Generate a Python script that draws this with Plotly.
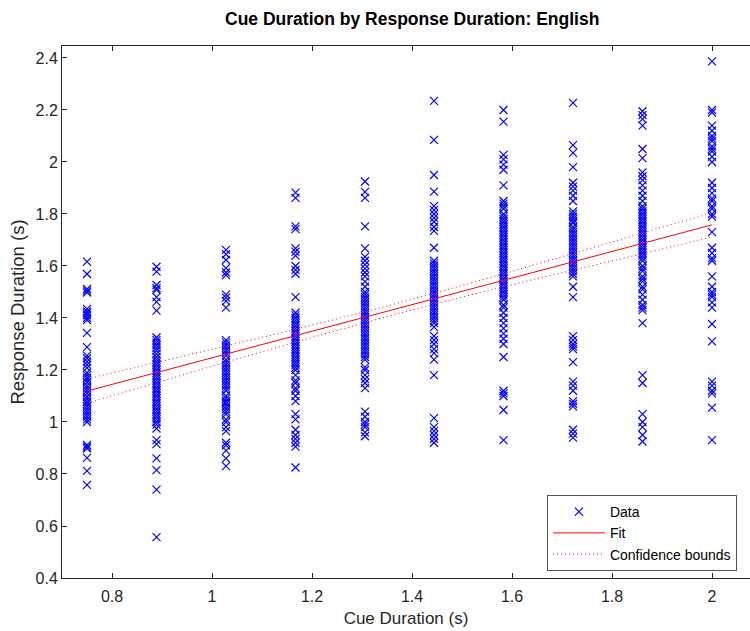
import plotly.graph_objects as go

# Cue duration levels (s)
cue_levels = [0.75, 0.889, 1.028, 1.167, 1.306, 1.444, 1.583, 1.722, 1.861, 2.0]

# Response durations (s) observed at each cue level
resp_075 = [1.617, 1.569, 1.512, 1.505, 1.498, 1.435, 1.425, 1.418, 1.41, 1.40, 1.392, 1.343,
            1.288, 1.255, 1.245, 1.232, 1.22, 1.208, 1.19, 1.18, 1.17, 1.162, 1.152, 1.14,
            1.13, 1.12, 1.11, 1.098, 1.088, 1.078, 1.07, 1.06, 1.05, 1.04, 1.03, 1.02, 1.01,
            1.0, 0.912, 0.905, 0.898, 0.862, 0.812, 0.758]
resp_089 = [1.597, 1.578, 1.527, 1.515, 1.508, 1.48, 1.462, 1.428, 1.325, 1.315, 1.305, 1.295,
            1.285, 1.275, 1.262, 1.25, 1.24, 1.23, 1.22, 1.21, 1.2, 1.19, 1.18, 1.17, 1.16,
            1.15, 1.14, 1.13, 1.12, 1.11, 1.1, 1.09, 1.08, 1.07, 1.06, 1.05, 1.04, 1.03, 1.02,
            1.01, 1.0, 0.99, 0.975, 0.93, 0.915, 0.86, 0.815, 0.74, 0.557]
resp_103 = [1.662, 1.645, 1.623, 1.592, 1.575, 1.565, 1.49, 1.478, 1.465, 1.44, 1.315, 1.305,
            1.295, 1.285, 1.275, 1.265, 1.255, 1.24, 1.23, 1.22, 1.21, 1.2, 1.19, 1.18, 1.17,
            1.16, 1.15, 1.14, 1.13, 1.12, 1.1, 1.09, 1.08, 1.075, 1.07, 1.06, 1.05, 1.04, 1.03,
            1.01, 1.0, 0.98, 0.965, 0.92, 0.91, 0.89, 0.86, 0.83]
resp_117 = [1.882, 1.862, 1.752, 1.742, 1.668, 1.655, 1.64, 1.6, 1.585, 1.57, 1.48, 1.42, 1.41,
            1.4, 1.39, 1.38, 1.37, 1.36, 1.35, 1.34, 1.33, 1.32, 1.31, 1.3, 1.29, 1.28, 1.27,
            1.26, 1.25, 1.24, 1.23, 1.22, 1.21, 1.2, 1.18, 1.16, 1.15, 1.13, 1.12, 1.1, 1.08,
            1.03, 1.01, 0.97, 0.95, 0.935, 0.92, 0.905, 0.825]
resp_131 = [1.925, 1.885, 1.862, 1.752, 1.668, 1.635, 1.62, 1.605, 1.59, 1.575, 1.56, 1.54,
            1.52, 1.5, 1.49, 1.48, 1.47, 1.46, 1.45, 1.44, 1.43, 1.42, 1.41, 1.4, 1.39, 1.38,
            1.37, 1.36, 1.35, 1.34, 1.33, 1.32, 1.31, 1.3, 1.29, 1.28, 1.27, 1.26, 1.25, 1.24,
            1.21, 1.2, 1.18, 1.165, 1.15, 1.13, 1.04, 1.02, 1.0, 0.99, 0.98, 0.96, 0.945]
resp_144 = [2.235, 2.085, 1.95, 1.886, 1.83, 1.815, 1.8, 1.785, 1.77, 1.75, 1.735, 1.67, 1.62,
            1.61, 1.6, 1.59, 1.58, 1.57, 1.56, 1.55, 1.54, 1.53, 1.52, 1.51, 1.5, 1.49, 1.48,
            1.47, 1.46, 1.45, 1.44, 1.43, 1.42, 1.41, 1.4, 1.39, 1.38, 1.365, 1.33, 1.315, 1.3,
            1.28, 1.265, 1.24, 1.18, 1.015, 0.98, 0.965, 0.95, 0.935, 0.92]
resp_158 = [2.2, 2.155, 2.027, 2.01, 1.99, 1.97, 1.91, 1.85, 1.84, 1.83, 1.82, 1.8, 1.79, 1.78,
            1.77, 1.76, 1.75, 1.74, 1.73, 1.72, 1.71, 1.7, 1.69, 1.68, 1.67, 1.66, 1.65, 1.64,
            1.63, 1.62, 1.61, 1.6, 1.59, 1.58, 1.57, 1.56, 1.55, 1.54, 1.53, 1.52, 1.51, 1.5,
            1.49, 1.48, 1.47, 1.45, 1.44, 1.42, 1.4, 1.38, 1.36, 1.34, 1.32, 1.3, 1.25, 1.12,
            1.11, 1.1, 1.046, 0.93]
resp_172 = [2.227, 2.065, 2.035, 1.98, 1.92, 1.905, 1.89, 1.87, 1.85, 1.81, 1.8, 1.79, 1.78,
            1.77, 1.765, 1.75, 1.74, 1.73, 1.72, 1.71, 1.7, 1.69, 1.68, 1.67, 1.66, 1.65, 1.64,
            1.63, 1.62, 1.61, 1.6, 1.59, 1.58, 1.57, 1.56, 1.52, 1.48, 1.33, 1.315, 1.3, 1.29,
            1.28, 1.23, 1.155, 1.14, 1.12, 1.08, 1.07, 1.06, 0.97, 0.955, 0.94]
resp_186 = [2.195, 2.18, 2.165, 2.14, 2.05, 2.015, 1.96, 1.945, 1.93, 1.91, 1.89, 1.87, 1.85,
            1.83, 1.82, 1.81, 1.8, 1.79, 1.78, 1.77, 1.76, 1.75, 1.74, 1.73, 1.72, 1.71, 1.7,
            1.69, 1.68, 1.67, 1.66, 1.65, 1.64, 1.63, 1.62, 1.6, 1.59, 1.58, 1.56, 1.55, 1.54,
            1.52, 1.51, 1.49, 1.47, 1.45, 1.44, 1.43, 1.38, 1.18, 1.15, 1.03, 1.0, 0.98, 0.95,
            0.925]
resp_200 = [2.387, 2.2, 2.19, 2.14, 2.12, 2.1, 2.09, 2.08, 2.06, 2.05, 2.04, 2.02, 2.0, 1.92,
            1.9, 1.88, 1.86, 1.85, 1.83, 1.82, 1.8, 1.79, 1.73, 1.67, 1.65, 1.63, 1.62, 1.56,
            1.52, 1.5, 1.49, 1.48, 1.46, 1.44, 1.377, 1.31, 1.155, 1.14, 1.12, 1.11, 1.055, 0.93]

responses = [resp_075, resp_089, resp_103, resp_117, resp_131,
             resp_144, resp_158, resp_172, resp_186, resp_200]

# Linear fit (endpoints of the fitted line)
fit_x = [0.75, 2.0]
fit_y = [1.119, 1.758]

# 95% confidence bounds of the fit at each cue level
bound_upper = [1.166, 1.229, 1.292, 1.357, 1.424, 1.495, 1.570, 1.648, 1.727, 1.804]
bound_lower = [1.072, 1.151, 1.230, 1.307, 1.382, 1.453, 1.520, 1.584, 1.647, 1.712]

# Tick values
x_ticks = [0.8, 1.0, 1.2, 1.4, 1.6, 1.8, 2.0]
x_tick_text = ["0.8", "1", "1.2", "1.4", "1.6", "1.8", "2"]
y_ticks = [0.4, 0.6, 0.8, 1.0, 1.2, 1.4, 1.6, 1.8, 2.0, 2.2, 2.4]
y_tick_text = ["0.4", "0.6", "0.8", "1", "1.2", "1.4", "1.6", "1.8", "2", "2.2", "2.4"]

data_x, data_y = [], []
for level, vals in zip(cue_levels, responses):
    data_x.extend([level] * len(vals))
    data_y.extend(vals)

FONT = "Liberation Sans, Arial, Helvetica, sans-serif"
AXIS_COLOR = "#262626"
BOUND_DASH = "1px,3px"

fig = go.Figure()
fig.add_trace(go.Scatter(
    x=data_x, y=data_y, mode="markers", name="Data",
    marker=dict(symbol="x-thin", size=8, color="#0000ff",
                line=dict(color="#0000ff", width=1.2)),
))
fig.add_trace(go.Scatter(
    x=fit_x, y=fit_y, mode="lines", name="Fit",
    line=dict(color="#ff0000", width=1),
))
fig.add_trace(go.Scatter(
    x=cue_levels, y=bound_upper, mode="lines", name="Confidence bounds",
    line=dict(color="#ff0000", width=1, dash=BOUND_DASH, shape="spline"),
    legendgroup="bounds",
))
fig.add_trace(go.Scatter(
    x=cue_levels, y=bound_lower, mode="lines", name="Confidence bounds",
    line=dict(color="#ff0000", width=1, dash=BOUND_DASH, shape="spline"),
    legendgroup="bounds", showlegend=False,
))

axis_common = dict(
    showline=True, linecolor=AXIS_COLOR, linewidth=1,
    ticks="inside", ticklen=5, tickcolor=AXIS_COLOR, tickwidth=1,
    showgrid=False, zeroline=False,
    tickfont=dict(family=FONT, size=16, color=AXIS_COLOR),
)

fig.update_layout(
    width=750, height=631,
    margin=dict(l=62, r=0, t=46, b=53),
    paper_bgcolor="white", plot_bgcolor="white",
    title=dict(text="<b>Cue Duration by Response Duration: English</b>",
               x=0.509, xref="paper", xanchor="center",
               y=0.970, yref="container", yanchor="middle",
               font=dict(family=FONT, size=17.5, color="#000000")),
    xaxis=dict(range=[0.7, 2.076], tickvals=x_ticks, ticktext=x_tick_text,
               mirror="ticks", ticklabelstandoff=4,
               title=dict(text="Cue Duration (s)", standoff=7,
                          font=dict(family=FONT, size=17, color=AXIS_COLOR)),
               **axis_common),
    yaxis=dict(range=[0.4, 2.446], tickvals=y_ticks, ticktext=y_tick_text,
               title=dict(text="Response Duration (s)", standoff=6,
                          font=dict(family=FONT, size=18.5, color=AXIS_COLOR)),
               **axis_common),
    legend=dict(x=0.981, y=0.013, xanchor="right", yanchor="bottom",
                bgcolor="white", bordercolor="#555555", borderwidth=1,
                font=dict(family=FONT, size=14, color="#000000"),
                tracegroupgap=0, itemwidth=52),
    showlegend=True,
)

fig.write_html("out.html")
